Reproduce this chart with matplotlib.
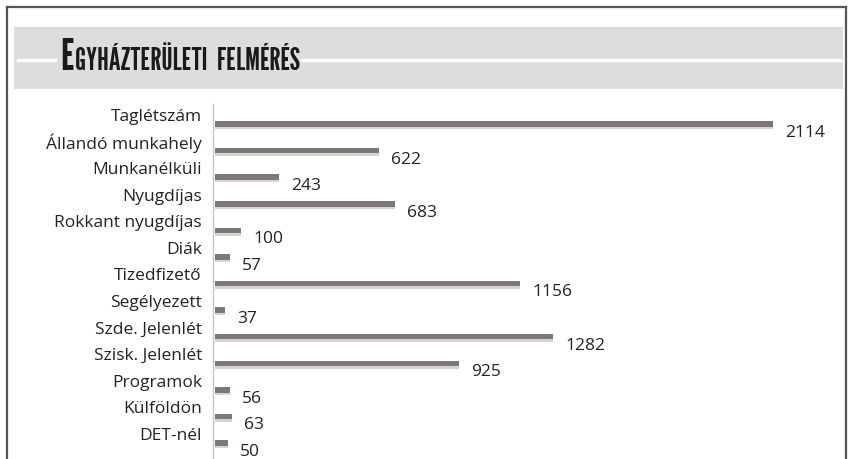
import numpy as np
import matplotlib
matplotlib.use("Agg")
import matplotlib.pyplot as plt
from matplotlib.patches import Rectangle
from matplotlib.lines import Line2D

# Data
categories = ["Taglétszám", "Állandó munkahely", "Munkanélküli", "Nyugdíjas",
              "Rokkant nyugdíjas", "Diák", "Tizedfizető", "Segélyezett",
              "Szde. Jelenlét", "Szisk. Jelenlét", "Programok", "Külföldön",
              "DET-nél"]
values = [2114, 622, 243, 683, 100, 57, 1156, 37, 1282, 925, 56, 63, 50]
title_first = "E"
title_rest = "GYHÁZTERÜLETI  FELMÉRÉS"

W, H = 851, 460
fig = plt.figure(figsize=(W / 100, H / 100), dpi=100)
fig.patch.set_facecolor("white")

def fx(px):
    return px / W

def fy(py):
    return 1 - py / H

title_font = ["League Gothic", "Oswald", "Roboto"]
label_font = ["Open Sans", "DejaVu Sans"]

# outer frame (bottom runs off the picture)
fig.add_artist(Line2D([fx(7), fx(7)], [fy(8), fy(470)], color="#555555", lw=1.6))
fig.add_artist(Line2D([fx(7), fx(846)], [fy(8), fy(8)], color="#555555", lw=1.6))
fig.add_artist(Line2D([fx(846), fx(846)], [fy(8), fy(470)], color="#555555", lw=1.6))

# title banner
fig.add_artist(Rectangle((fx(14), fy(90)), fx(843) - fx(14), fy(28) - fy(90),
                         facecolor="#dcdddf", edgecolor="none"))
fig.add_artist(Line2D([fx(18), fx(55)], [fy(61), fy(61)], color="white", lw=2.5))
fig.add_artist(Line2D([fx(302), fx(840)], [fy(61), fy(61)], color="white", lw=2.5))
t1 = fig.text(fx(60), fy(70), title_first, fontsize=31, color="#1a1a1a",
              family=title_font, va="baseline")
fig.canvas.draw()
bb = t1.get_window_extent()
fig.text(bb.x1 / W + 0.001, fy(70), title_rest, fontsize=22, color="#1a1a1a",
         family=title_font, va="baseline")

# bar chart
ax = fig.add_axes([fx(213), fy(460), fx(846) - fx(213), fy(105) - fy(460)])
ax.set_facecolor("none")
px_per_unit = (773 - 215) / 2114
ax.set_xlim(-2 / px_per_unit, (846 - 215) / px_per_unit)
step = (444 - 125) / 12
ax.set_ylim(12 + 16 / step, -20 / step)

ypos = np.arange(len(categories))
bh = 5.5 / step
# soft shadow under the bars
ax.barh(ypos + 1.5 / step, values, height=bh + 2 / step, left=0, color="#d6d3d3", zorder=1)
ax.barh(ypos, values, height=bh, left=0, color="#7d7878", zorder=2)

for i, (c, v) in enumerate(zip(categories, values)):
    ax.text(-13 / px_per_unit, i - 8 / step, c, ha="right", va="center",
            fontsize=12.5, color="#222222", family=label_font, clip_on=False)
    ax.annotate(str(v), (v, i + 8 / step), xytext=(12, 0), textcoords="offset pixels",
                ha="left", va="center", fontsize=12.5, color="#222222",
                family=label_font, annotation_clip=False)

for s in ["top", "right", "bottom"]:
    ax.spines[s].set_visible(False)
ax.spines["left"].set_color("#c8c4c4")
ax.spines["left"].set_linewidth(1)
ax.set_xticks([])
ax.set_yticks([])

fig.savefig("out.png", dpi=100, facecolor="white")
